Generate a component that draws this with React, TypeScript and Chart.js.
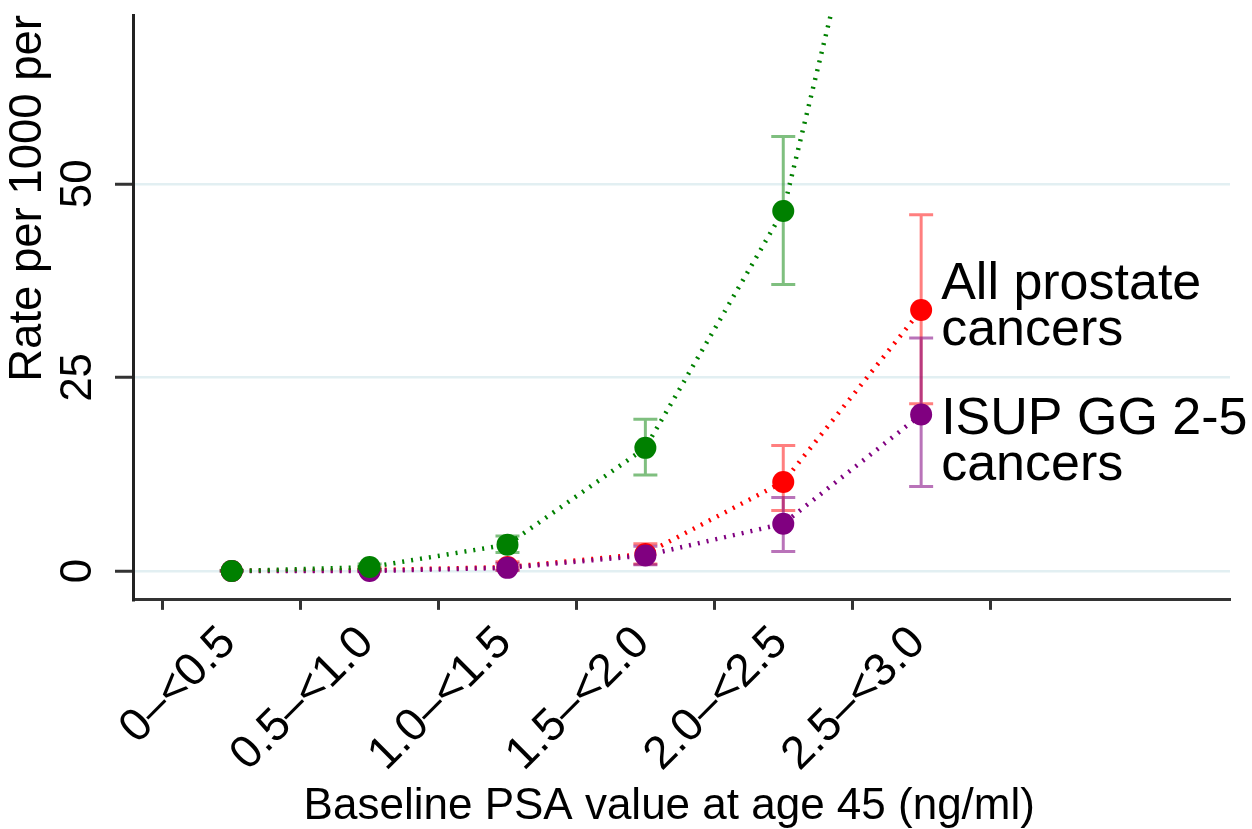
import React, { useEffect, useRef } from "react";
import { Chart, registerables } from "chart.js";

Chart.register(...registerables);

const FONT = '"Liberation Sans", Arial, Helvetica, sans-serif';

// Category labels (PSA bands) and their mid-points on the PSA axis
const categories = ["0–<0.5", "0.5–<1.0", "1.0–<1.5", "1.5–<2.0", "2.0–<2.5", "2.5–<3.0"];
const midpoints = [0.25, 0.75, 1.25, 1.75, 2.25, 2.75];
const boundaryTicks = [0, 0.5, 1.0, 1.5, 2.0, 2.5, 3.0];
const yTicks = [0, 25, 50];

// Green series (label cropped in the original)
const greenRate = [0.0, 0.5, 3.4, 15.9, 46.5, 120];
const greenLower = [0.0, 0.2, 2.4, 12.4, 37.0, 100];
const greenUpper = [0.1, 0.9, 4.5, 19.6, 56.1, 142];

// All prostate cancers
const allRate = [0.0, 0.1, 0.5, 2.2, 11.5, 33.7];
const allLower = [0.0, 0.0, 0.1, 0.9, 7.8, 21.6];
const allUpper = [0.05, 0.4, 1.2, 3.5, 16.2, 46.0];

// ISUP GG 2-5 cancers
const isupRate = [0.0, 0.0, 0.4, 2.0, 6.1, 20.2];
const isupLower = [0.0, 0.0, 0.1, 0.8, 2.5, 10.9];
const isupUpper = [0.05, 0.2, 1.0, 3.2, 9.5, 30.1];

const allLabel = ["All prostate", "cancers"];
const isupLabel = ["ISUP GG 2-5", "cancers"];

const xTitle = "Baseline PSA value at age 45 (ng/ml)";
const yTitle = "Rate per 1000 per";

const GREEN = "rgb(0,128,0)";
const RED = "rgb(255,0,0)";
const PURPLE = "rgb(128,0,128)";

// error bars drawn in this order (first = bottom)
const errorSeries = [
  { lower: allLower, upper: allUpper, color: "rgba(255,0,0,0.5)" },
  { lower: isupLower, upper: isupUpper, color: "rgba(128,0,128,0.55)" },
  { lower: greenLower, upper: greenUpper, color: "rgba(0,128,0,0.5)" },
];

const labelSpecs = [
  { lines: allLabel, values: allRate, dy: -11 },
  { lines: isupLabel, values: isupRate, dy: 19 },
];

const errorBarPlugin = {
  id: "errorBars",
  beforeDatasetsDraw(chart: any) {
    const { ctx, chartArea } = chart;
    const xs = chart.scales.x;
    const ys = chart.scales.y;
    ctx.save();
    ctx.beginPath();
    ctx.rect(chartArea.left, chartArea.top, chartArea.right - chartArea.left, chartArea.bottom - chartArea.top);
    ctx.clip();
    ctx.lineWidth = 3;
    ctx.lineCap = "butt";
    const cap = 12;
    errorSeries.forEach((s) => {
      ctx.strokeStyle = s.color;
      midpoints.forEach((m, i) => {
        const x = xs.getPixelForValue(m);
        const yl = ys.getPixelForValue(s.lower[i]);
        const yu = ys.getPixelForValue(s.upper[i]);
        ctx.beginPath();
        ctx.moveTo(x, yl);
        ctx.lineTo(x, yu);
        ctx.moveTo(x - cap, yl);
        ctx.lineTo(x + cap, yl);
        ctx.moveTo(x - cap, yu);
        ctx.lineTo(x + cap, yu);
        ctx.stroke();
      });
    });
    ctx.restore();
  },
};

const labelPlugin = {
  id: "seriesLabels",
  afterDatasetsDraw(chart: any) {
    const { ctx } = chart;
    const xs = chart.scales.x;
    const ys = chart.scales.y;
    const last = midpoints.length - 1;
    ctx.save();
    ctx.font = `52px ${FONT}`;
    ctx.fillStyle = "#000";
    ctx.textAlign = "left";
    ctx.textBaseline = "alphabetic";
    labelSpecs.forEach((spec) => {
      const px = xs.getPixelForValue(midpoints[last]) + 20;
      const py = ys.getPixelForValue(spec.values[last]) + spec.dy;
      spec.lines.forEach((line, k) => ctx.fillText(line, px, py + k * 46));
    });
    ctx.restore();
  },
};

function makeSeries(values: number[], color: string) {
  return {
    data: midpoints.map((x, i) => ({ x, y: values[i] })),
    borderColor: color,
    backgroundColor: color,
    borderWidth: 4.5,
    borderDash: [2, 7],
    borderCapStyle: "butt" as const,
    pointRadius: 11,
    pointHoverRadius: 11,
    pointBorderWidth: 0,
    pointBackgroundColor: color,
    tension: 0,
    fill: false,
  };
}

export default function App() {
  const ref = useRef<HTMLCanvasElement | null>(null);

  useEffect(() => {
    if (!ref.current) return;
    Chart.defaults.font.family = FONT;
    const chart = new Chart(ref.current, {
      type: "line",
      data: {
        datasets: [
          makeSeries(greenRate, GREEN),
          makeSeries(isupRate, PURPLE),
          makeSeries(allRate, RED),
        ],
      },
      options: {
        responsive: false,
        animation: false,
        events: [],
        layout: { padding: { top: 15, left: 1, right: 22, bottom: 0 } },
        plugins: {
          legend: { display: false },
          tooltip: { enabled: false },
        },
        scales: {
          x: {
            type: "linear",
            min: -0.108,
            max: 3.87,
            afterBuildTicks: (scale: any) => {
              scale.ticks = [...boundaryTicks, ...midpoints]
                .sort((a, b) => a - b)
                .map((v) => ({ value: v }));
            },
            ticks: {
              autoSkip: false,
              minRotation: 45,
              maxRotation: 45,
              padding: 6,
              labelOffset: -3,
              color: "#000",
              font: { family: FONT, size: 46, lineHeight: 1.2 },
              callback: (v: any) => {
                const i = midpoints.indexOf(Number(v));
                return i >= 0 ? categories[i] : "";
              },
            },
            grid: {
              display: true,
              drawOnChartArea: false,
              drawTicks: true,
              tickLength: 10,
              tickWidth: 3,
              tickColor: (c: any) =>
                c.tick && midpoints.includes(c.tick.value) ? "rgba(0,0,0,0)" : "#333",
            },
            border: { display: true, color: "#333", width: 3 },
            title: {
              display: true,
              text: xTitle + "  ",
              color: "#000",
              font: { family: FONT, size: 44, lineHeight: 1.0 },
              padding: { top: -3.4, bottom: 0 },
            },
          },
          y: {
            type: "linear",
            min: -3.73,
            max: 71.8,
            afterBuildTicks: (scale: any) => {
              scale.ticks = yTicks.map((v) => ({ value: v }));
            },
            ticks: {
              minRotation: 90,
              maxRotation: 90,
              crossAlign: "center",
              padding: 12,
              color: "#000",
              font: { family: FONT, size: 44, lineHeight: 0.1 },
            },
            grid: {
              color: "rgb(226,239,242)",
              lineWidth: 2.5,
              drawTicks: true,
              tickLength: 18,
              tickWidth: 3,
              tickColor: "#333",
            },
            border: { display: true, color: "#222", width: 3 },
            title: {
              display: true,
              text: yTitle,
              align: "end",
              color: "#000",
              font: { family: FONT, size: 45.5, lineHeight: 1.2 },
              padding: { top: 0, bottom: 31 },
            },
          },
        },
      },
      plugins: [errorBarPlugin, labelPlugin],
    } as any);
    return () => chart.destroy();
  }, []);

  return (
    <div style={{ position: "absolute", left: 0, top: 0, width: 1252, height: 829, background: "#fff" }}>
      <canvas ref={ref} width={1252} height={829} style={{ display: "block" }} />
    </div>
  );
}
